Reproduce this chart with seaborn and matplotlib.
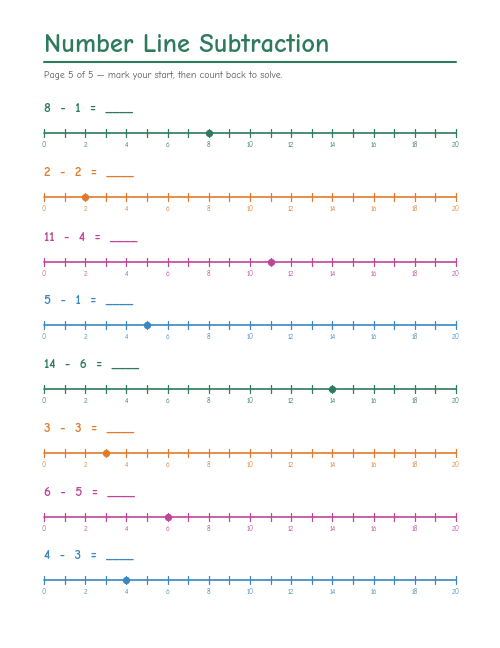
import matplotlib
matplotlib.use("Agg")
import matplotlib.pyplot as plt
import seaborn as sns
import pandas as pd

starts = [8, 2, 11, 5, 14, 3, 6, 4]
subtract = [1, 2, 4, 1, 6, 3, 5, 3]
colors = ["#2e7a5c", "#e07a2c", "#bf4597", "#3a87c2"] * 2
tick_values = list(range(0, 21))
label_values = list(range(0, 21, 2))

sns.set_theme(style="white")
plt.rcParams['font.family'] = ['Comic Neue', 'Noto Sans', 'DejaVu Sans']

fig = plt.figure(figsize=(5, 6.48), dpi=100)
ax = fig.add_axes([0, 0, 1, 1])
px = 20.6
ax.set_xlim(-44 / px, 20 + 44 / px)
ax.set_ylim(648, 0)
ax.axis("off")

ax.text(0, 45, "Number Line Subtraction", fontsize=19, fontweight="bold",
        color="#2e7a5c", va="center", ha="left")
ax.plot([0, 20], [62, 62], color="#2e7a5c", lw=1.5)
ax.text(0, 75, "Page 5 of 5 — mark your start, then count back to solve.", fontsize=7,
        color="#555555", va="center", ha="left")

line_y = [133, 197, 262, 325, 389, 453, 517, 580]
for i, (s, d) in enumerate(zip(starts, subtract)):
    y = line_y[i]
    c = colors[i]
    ax.text(0, y - 25, f"{s}  -  {d}  =  ____", fontsize=9.5, fontweight="bold", color=c,
            va="center", ha="left")
    ax.plot([0, 20], [y, y], color=c, lw=1.2)
    for t in tick_values:
        ax.plot([t, t], [y - 4, y + 4], color=c, lw=0.9)
    for t in label_values:
        ax.text(t, y + 12, str(t), fontsize=5, color=c, ha="center", va="center")
    df = pd.DataFrame({"x": [s], "y": [y]})
    sns.scatterplot(data=df, x="x", y="y", color=c, s=28, marker="o", linewidth=0,
                    ax=ax, zorder=5, legend=False)

ax.set_xlabel("")
ax.set_ylabel("")
fig.savefig("out.png", dpi=100)
